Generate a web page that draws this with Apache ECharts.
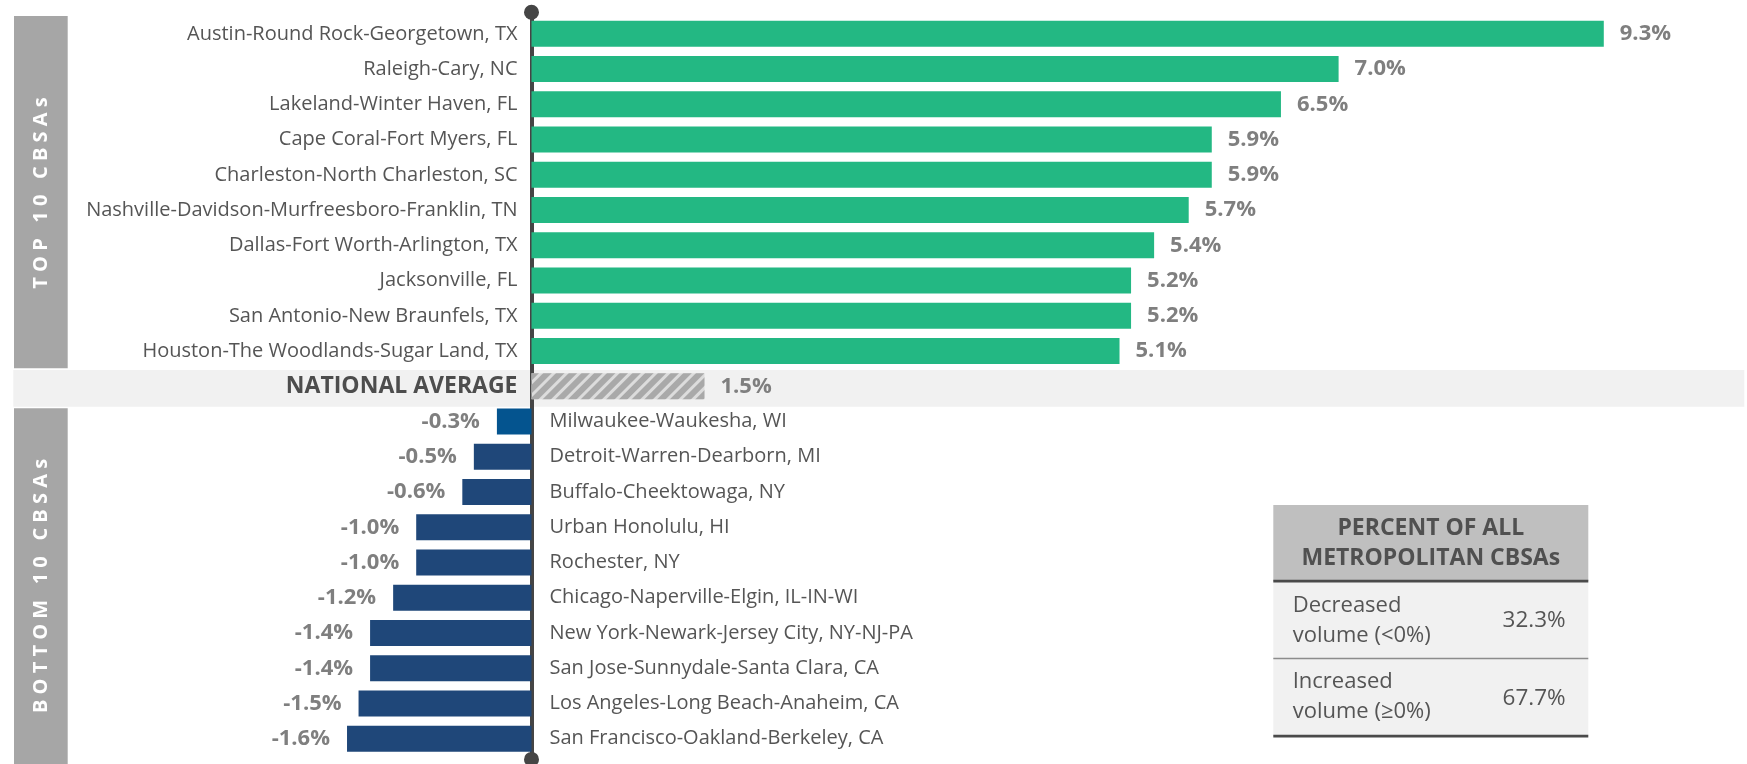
<!DOCTYPE html>
<html lang="en">
<head>
    <meta charset="UTF-8">
    <title>CBSAs</title>
    <script src="https://cdn.jsdelivr.net/npm/echarts@6/dist/echarts.min.js"></script>
    <style>
        html, body { margin: 0; padding: 0; background: #fff; }
        #main { width: 1747px; height: 764px; }
    </style>
</head>
<body>
<div id="main"></div>
<script type="text/javascript">
    // top 10 CBSAs
    var topNames = ['Austin-Round Rock-Georgetown, TX', 'Raleigh-Cary, NC', 'Lakeland-Winter Haven, FL',
        'Cape Coral-Fort Myers, FL', 'Charleston-North Charleston, SC', 'Nashville-Davidson-Murfreesboro-Franklin, TN',
        'Dallas-Fort Worth-Arlington, TX', 'Jacksonville, FL', 'San Antonio-New Braunfels, TX',
        'Houston-The Woodlands-Sugar Land, TX'];
    var topValues = [9.3, 7.0, 6.5, 5.9, 5.9, 5.7, 5.4, 5.2, 5.2, 5.1];

    var avgName = 'NATIONAL AVERAGE';
    var avgValue = 1.5;

    // bottom 10 CBSAs
    var bottomNames = ['Milwaukee-Waukesha, WI', 'Detroit-Warren-Dearborn, MI', 'Buffalo-Cheektowaga, NY',
        'Urban Honolulu, HI', 'Rochester, NY', 'Chicago-Naperville-Elgin, IL-IN-WI',
        'New York-Newark-Jersey City, NY-NJ-PA', 'San Jose-Sunnydale-Santa Clara, CA',
        'Los Angeles-Long Beach-Anaheim, CA', 'San Francisco-Oakland-Berkeley, CA'];
    var bottomValues = [-0.3, -0.5, -0.6, -1.0, -1.0, -1.2, -1.4, -1.4, -1.5, -1.6];

    // side table
    var tableTitle = 'PERCENT OF ALL\nMETROPOLITAN CBSAs';
    var tableLabels = ['Decreased\nvolume (<0%)', 'Increased\nvolume (\u22650%)'];
    var tableValues = ['32.3%', '67.7%'];

    var FONT = '"Open Sans", "Liberation Sans", sans-serif';
    var categories = topNames.concat([avgName], bottomNames);
    var allValues = topValues.concat([avgValue], bottomValues);
    var nTop = topNames.length;

    // coloured bars, value labels on the outer side
    var barData = allValues.map(function (v, i) {
        var item = {value: v, label: {position: v >= 0 ? 'right' : 'left', distance: v >= 0 ? 16 : 17}};
        if (i < nTop) {
            item.itemStyle = {color: '#23b883'};
        } else if (i === nTop) {
            item.itemStyle = {
                color: '#dcdcdc',
                decal: {
                    symbol: 'rect',
                    symbolSize: 1,
                    dashArrayX: [1, 0],
                    dashArrayY: [6, 3],
                    rotation: -Math.PI / 4,
                    color: '#a9a9a9'
                }
            };
        } else {
            item.itemStyle = {color: i === nTop + 1 ? '#04548f' : '#1f4779'};
        }
        return item;
    });

    // invisible twin bars that carry the category names on the zero side
    var nameData = allValues.map(function (v) {
        return {value: v, label: {position: v >= 0 ? 'left' : 'right', distance: v >= 0 ? 14 : 18}};
    });

    var myChart = echarts.init(document.getElementById('main'));

    var option = {
        animation: false,
        grid: {
            left: 12.65,
            right: 62.5,
            top: 16.2,
            bottom: 7.6,
            containLabel: false,
            outerBoundsMode: 'none'
        },
        xAxis: {
            type: 'value',
            min: -4.5,
            max: 10,
            show: false
        },
        yAxis: {
            type: 'category',
            data: categories,
            inverse: true,
            axisLine: {
                onZero: true,
                symbol: ['circle', 'circle'],
                symbolSize: [15, 15],
                symbolOffset: [-3, 4],
                lineStyle: {color: '#454545', width: 4}
            },
            axisTick: {show: false},
            axisLabel: {show: false}
        },
        series: [
            {
                type: 'bar',
                barWidth: 26,
                barGap: '-100%',
                silent: true,
                data: nameData,
                itemStyle: {color: 'rgba(0,0,0,0)'},
                label: {
                    show: true,
                    color: '#555',
                    fontSize: 20,
                    fontFamily: FONT,
                    formatter: function (p) {
                        return p.dataIndex === nTop ? '{b|' + p.name + '}' : p.name;
                    },
                    rich: {
                        b: {fontWeight: 'bold', fontSize: 23, color: '#4d4d4d', fontFamily: FONT}
                    }
                },
                z: 1
            },
            {
                type: 'bar',
                barWidth: 26,
                barGap: '-100%',
                data: barData,
                label: {
                    show: true,
                    color: '#7f7f7f',
                    fontWeight: 'bold',
                    fontSize: 22,
                    fontFamily: FONT,
                    formatter: function (p) {
                        return p.value.toFixed(1) + '%';
                    }
                },
                z: 3
            }
        ],
        graphic: [
            // national average band
            {type: 'rect', z: -10, shape: {x: 13.3, y: 370, width: 1731, height: 36.7}, style: {fill: '#f1f1f1'}},
            // side bands
            {type: 'rect', shape: {x: 14, y: 16, width: 53.7, height: 352.3}, style: {fill: '#a6a6a6'}},
            {type: 'rect', shape: {x: 14, y: 408.3, width: 53.7, height: 356}, style: {fill: '#a6a6a6'}},
            {
                type: 'text', x: 41.5, y: 193, rotation: Math.PI / 2,
                style: {text: 'T O P   1 0   C B S A s', fill: '#fff', font: 'bold 20px ' + FONT, align: 'center', verticalAlign: 'middle'}
            },
            {
                type: 'text', x: 41.5, y: 586, rotation: Math.PI / 2,
                style: {text: 'B O T T O M   1 0   C B S A s', fill: '#fff', font: 'bold 20px ' + FONT, align: 'center', verticalAlign: 'middle'}
            },
            // table
            {type: 'rect', shape: {x: 1273.3, y: 505, width: 315, height: 76}, style: {fill: '#bfbfbf'}},
            {type: 'rect', shape: {x: 1273.3, y: 581, width: 315, height: 155}, style: {fill: '#f1f1f1'}},
            {type: 'rect', shape: {x: 1273.3, y: 579.8, width: 315, height: 2.6}, style: {fill: '#4a4a4a'}},
            {type: 'rect', shape: {x: 1273.3, y: 657.8, width: 315, height: 1.4}, style: {fill: '#8c8c8c'}},
            {type: 'rect', shape: {x: 1273.3, y: 734.8, width: 315, height: 2.6}, style: {fill: '#4a4a4a'}},
            {
                type: 'text', x: 1430.8, y: 543.5,
                style: {text: tableTitle, fill: '#505050', font: 'bold 23px ' + FONT, align: 'center', verticalAlign: 'middle', lineHeight: 30.5}
            },
            {
                type: 'text', x: 1292.7, y: 620.5,
                style: {text: tableLabels[0], fill: '#555', font: '22px ' + FONT, align: 'left', verticalAlign: 'middle', lineHeight: 29.6}
            },
            {
                type: 'text', x: 1565.7, y: 620.7,
                style: {text: tableValues[0], fill: '#555', font: '22.5px ' + FONT, align: 'right', verticalAlign: 'middle'}
            },
            {
                type: 'text', x: 1292.7, y: 697,
                style: {text: tableLabels[1], fill: '#555', font: '22px ' + FONT, align: 'left', verticalAlign: 'middle', lineHeight: 29.6}
            },
            {
                type: 'text', x: 1565.7, y: 698.3,
                style: {text: tableValues[1], fill: '#555', font: '22.5px ' + FONT, align: 'right', verticalAlign: 'middle'}
            }
        ]
    };

    myChart.setOption(option);
</script>
</body>
</html>
